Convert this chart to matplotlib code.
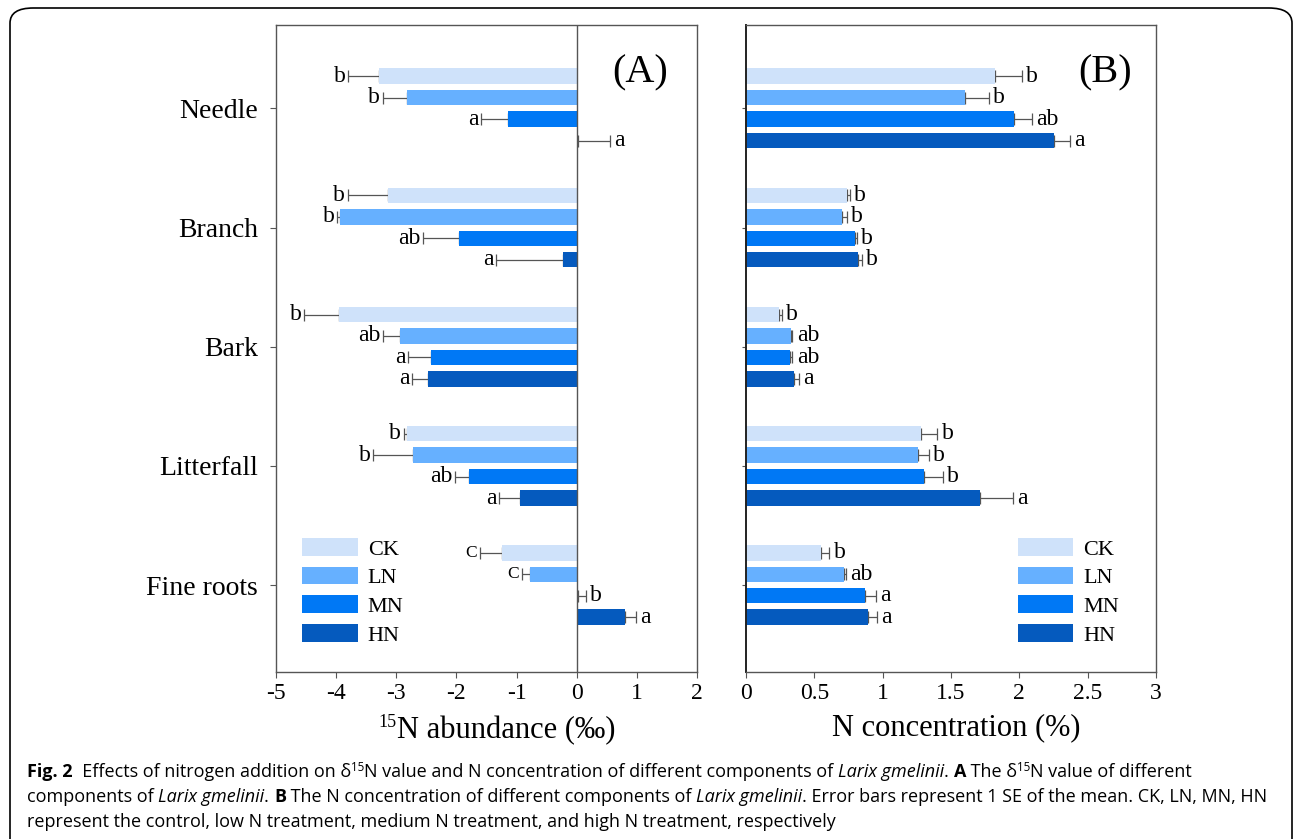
import numpy as np
import matplotlib
matplotlib.use("Agg")
import matplotlib.pyplot as plt
from matplotlib.patches import FancyBboxPatch
from matplotlib import font_manager

### data (rows = organs, cols = CK, LN, MN, HN)

organs = ["Needle", "Branch", "Bark", "Litterfall", "Fine roots"]
treatments = ["CK", "LN", "MN", "HN"]
colors = ["#CFE2FA", "#66B0FF", "#0078F5", "#055ABE"]

n15_mean = [[-3.28, -2.82, -1.14, 0.02],
            [-3.13, -3.93, -1.96, -0.23],
            [-3.95, -2.94, -2.42, -2.47],
            [-2.82, -2.72, -1.79, -0.95],
            [-1.24, -0.77, 0.02, 0.81]]
n15_se = [[0.52, 0.40, 0.45, 0.54],
          [0.68, 0.05, 0.59, 1.11],
          [0.58, 0.28, 0.38, 0.27],
          [0.05, 0.66, 0.23, 0.34],
          [0.37, 0.14, 0.13, 0.18]]
n15_letters = [["b", "b", "a", "a"],
               ["b", "b", "ab", "a"],
               ["b", "ab", "a", "a"],
               ["b", "b", "ab", "a"],
               ["C", "C", "b", "a"]]

nconc_mean = [[1.82, 1.60, 1.96, 2.25],
              [0.74, 0.70, 0.80, 0.82],
              [0.24, 0.33, 0.32, 0.35],
              [1.28, 1.26, 1.30, 1.71],
              [0.55, 0.72, 0.87, 0.89]]
nconc_se = [[0.20, 0.18, 0.13, 0.12],
            [0.02, 0.04, 0.01, 0.03],
            [0.02, 0.01, 0.02, 0.04],
            [0.12, 0.08, 0.14, 0.24],
            [0.06, 0.01, 0.08, 0.07]]
nconc_letters = [["b", "b", "ab", "a"],
                 ["b", "b", "b", "b"],
                 ["b", "ab", "ab", "a"],
                 ["b", "b", "b", "a"],
                 ["b", "ab", "a", "a"]]

W, H = 1295, 839
plt.rcParams['font.family'] = 'Liberation Serif'
plt.rcParams['axes.unicode_minus'] = False

fig = plt.figure(figsize=(W / 100, H / 100), dpi=100)

# rounded frame around the whole figure
frame = FancyBboxPatch((10 / W, 1 - 870 / H), 1282 / W, 862 / H,
                       boxstyle="round,pad=0,rounding_size=0.018",
                       transform=fig.transFigure, fill=False,
                       edgecolor="black", linewidth=1.2, clip_on=False)
fig.patches.append(frame)

axA = fig.add_axes([276 / W, 1 - 672 / H, 421 / W, 647 / H])
axB = fig.add_axes([746 / W, 1 - 672 / H, 410 / W, 647 / H])

step = 0.18
height = 0.13
base = np.arange(len(organs))


def draw_panel(ax, mean, se, letters):
    mean = np.array(mean)
    se = np.array(se)
    for j, tr in enumerate(treatments):
        y = base + (j - 1.5) * step
        v = mean[:, j]
        e = se[:, j]
        lower = np.where(v < 0, e, 0)
        upper = np.where(v < 0, 0, e)
        ax.barh(y, v, height=height, color=colors[j], label=tr, zorder=2)
        ax.errorbar(v, y, xerr=[lower, upper], fmt='none', ecolor='#555555',
                    elinewidth=0.9, capsize=4, capthick=0.9, zorder=1)
        for i in range(len(organs)):
            lab = letters[i][j]
            fs = 12.5 if lab == "C" else 17
            if v[i] < 0:
                ax.annotate(lab, xy=(v[i] - e[i], y[i]), xytext=(-2, 0),
                            textcoords='offset points', ha='right',
                            va='center', fontsize=fs)
            else:
                ax.annotate(lab, xy=(v[i] + e[i], y[i]), xytext=(3, 0),
                            textcoords='offset points', ha='left',
                            va='center', fontsize=fs)
    ax.set_ylim(4.73, -0.70)
    ax.set_yticks(base)
    for s in ax.spines.values():
        s.set_color('#555555')
        s.set_linewidth(1.0)
    ax.tick_params(axis='x', direction='out', length=4, color='#555555',
                   labelsize=17, pad=4)
    ax.tick_params(axis='y', direction='out', length=4, color='#555555')


draw_panel(axA, n15_mean, n15_se, n15_letters)
draw_panel(axB, nconc_mean, nconc_se, nconc_letters)

axA.set_xlim(-5, 2)
axA.set_xticks(range(-5, 3))
axA.axvline(0, color='#555555', linewidth=1.0, zorder=3)
axA.set_yticklabels(organs, fontsize=20)
axA.tick_params(axis='y', pad=9)
axA.text(0.865, 0.926, "(A)", transform=axA.transAxes, fontsize=29,
         ha='center', va='center')

axB.set_xlim(0, 3)
axB.set_xticks([0, 0.5, 1, 1.5, 2, 2.5, 3])
axB.set_xticklabels(["0", "0.5", "1", "1.5", "2", "2.5", "3"])
axB.set_yticklabels([])
axB.spines['left'].set_color('#222222')
axB.spines['left'].set_linewidth(1.4)
axB.tick_params(axis='y', length=3)
axB.text(0.876, 0.926, "(B)", transform=axB.transAxes, fontsize=29,
         ha='center', va='center')

for ax, x0 in [(axA, 0.062), (axB, 0.663)]:
    ax.legend(loc='upper left', bbox_to_anchor=(x0, 0.207), frameon=False,
              fontsize=16, handlelength=2.5, handleheight=0.85,
              labelspacing=0.32, handletextpad=0.45, borderpad=0,
              borderaxespad=0)

# axis titles
fig.text(956 / W, 1 - 728 / H, "N concentration (%)", fontsize=22,
         ha='center', va='center')

renderer = fig.canvas.get_renderer()


def run_width(s, props):
    a = fig.text(0, 0, "x" + s + "x", **props)
    b = fig.text(0, 0, "xx", **props)
    w = a.get_window_extent(renderer).width - b.get_window_extent(renderer).width
    a.remove()
    b.remove()
    return w


def draw_runs(x, y, runs):
    # x, y in pixels (y from top, baseline)
    for s, props, rise in runs:
        fig.text(x / W, 1 - (y - rise) / H, s, va='baseline', ha='left', **props)
        x += run_width(s, props)


def total_width(runs):
    return sum(run_width(s, p) for s, p, r in runs)


lab_main = dict(fontsize=22)
lab_sup = dict(fontsize=13)
labA = [("15", lab_sup, 11), ("N abundance (‰)", lab_main, 0)]
wA = total_width(labA)
draw_runs(497 - wA / 2, 738, labA)

names = {f.name for f in font_manager.fontManager.ttflist}
cap_font = 'Liberation Sans Narrow' if 'Liberation Sans Narrow' in names else 'Open Sans'


def caption_lines(cs):
    n = dict(fontsize=cs, family=cap_font)
    it = dict(fontsize=cs, family=cap_font, style='italic')
    bf = dict(fontsize=cs, family=cap_font, weight='bold')
    sup = dict(fontsize=cs * 0.65, family=cap_font)
    rise = cs * 0.45
    return [
        [("Fig. 2", bf, 0), ("  Effects of nitrogen addition on δ", n, 0), ("15", sup, rise),
         ("N value and N concentration of different components of ", n, 0),
         ("Larix gmelinii", it, 0), (". ", n, 0), ("A", bf, 0), (" The δ", n, 0),
         ("15", sup, rise), ("N value of different", n, 0)],
        [("components of ", n, 0), ("Larix gmelinii", it, 0), (". ", n, 0), ("B", bf, 0),
         (" The N concentration of different components of ", n, 0),
         ("Larix gmelinii", it, 0),
         (". Error bars represent 1 SE of the mean. CK, LN, MN, HN", n, 0)],
        [("represent the control, low N treatment, medium N treatment, and high N treatment, respectively", n, 0)],
    ]


# shrink the caption font so the longest line fits the text block
cs = 14.0
widest = max(total_width(line) for line in caption_lines(cs))
cs = cs * 1245 / widest
for k, line in enumerate(caption_lines(cs)):
    draw_runs(27, 777 + 25 * k, line)

fig.savefig("out.png", dpi=100)
